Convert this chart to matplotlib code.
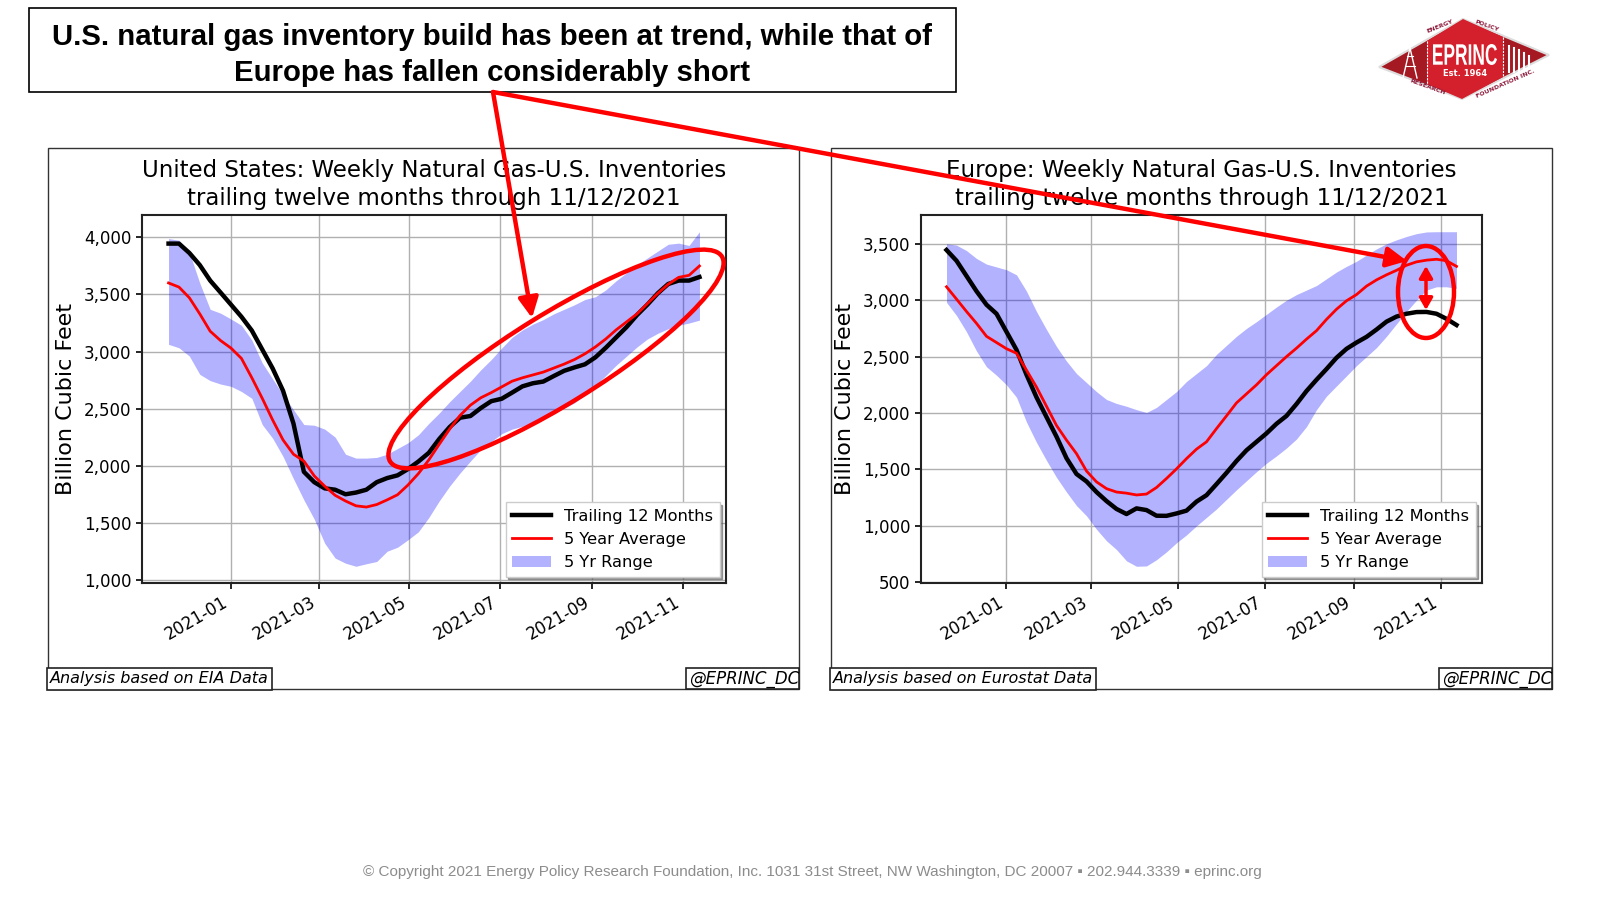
import matplotlib
matplotlib.use("Agg")
import matplotlib.pyplot as plt
import matplotlib.dates as mdates
import matplotlib.ticker as mticker
from matplotlib.patches import Rectangle, Ellipse, Polygon, FancyArrowPatch, PathPatch
from matplotlib.textpath import TextPath
from matplotlib.font_manager import FontProperties
from matplotlib.transforms import Affine2D
import pandas as pd

# weekly report dates, trailing twelve months through 11/12/2021
weeks = pd.date_range("2020-11-20", periods=52, freq="7D")

# United States (Bcf)
us_ttm = [3946, 3946, 3864, 3758, 3622, 3517, 3411, 3305, 3184, 3018,
          2852, 2656, 2369, 1946, 1855, 1801, 1789, 1749, 1764, 1789,
          1855, 1891, 1915, 1970, 2036, 2112, 2233, 2338, 2420, 2435,
          2505, 2565, 2586, 2640, 2695, 2722, 2737, 2785, 2831, 2861,
          2888, 2949, 3033, 3124, 3215, 3320, 3411, 3511, 3592, 3622,
          3622, 3653]
us_avg = [3601, 3565, 3471, 3330, 3178, 3096, 3030, 2940, 2770, 2590,
          2400, 2225, 2100, 2040, 1910, 1820, 1740, 1690, 1648, 1637,
          1659, 1700, 1745, 1830, 1930, 2050, 2187, 2320, 2440, 2530,
          2595, 2640, 2690, 2740, 2770, 2795, 2820, 2855, 2890, 2930,
          2980, 3040, 3110, 3190, 3260, 3330, 3420, 3510, 3590, 3650,
          3668, 3750]
us_high = [3990, 3975, 3870, 3600, 3370, 3336, 3285, 3230, 3100, 2900,
           2760, 2620, 2490, 2360, 2354, 2320, 2250, 2100, 2066, 2066,
           2072, 2100, 2150, 2200, 2270, 2370, 2460, 2560, 2650, 2740,
           2840, 2930, 3030, 3124, 3190, 3240, 3280, 3330, 3370, 3410,
           3456, 3480, 3540, 3620, 3690, 3760, 3820, 3880, 3940, 3950,
           3930, 4050]
us_low = [3063, 3033, 2960, 2800, 2745, 2715, 2695, 2650, 2590, 2360,
          2240, 2080, 1885, 1700, 1530, 1320, 1190, 1145, 1118, 1140,
          1160, 1250, 1285, 1350, 1420, 1545, 1690, 1820, 1935, 2040,
          2140, 2210, 2280, 2320, 2345, 2380, 2420, 2460, 2505, 2550,
          2620, 2700, 2790, 2880, 2960, 3040, 3110, 3160, 3200, 3230,
          3250, 3275]

# Europe (Bcf)
eu_ttm = [3445, 3350, 3215, 3080, 2960, 2880, 2720, 2560, 2340, 2140,
          1965, 1791, 1600, 1460, 1394, 1300, 1220, 1150, 1105, 1155,
          1140, 1090, 1089, 1110, 1135, 1215, 1272, 1370, 1470, 1575,
          1670, 1745, 1820, 1905, 1975, 2080, 2195, 2295, 2390, 2490,
          2569, 2625, 2675, 2740, 2810, 2855, 2880, 2895, 2896, 2880,
          2835, 2780]
eu_avg = [3119, 3010, 2900, 2795, 2680, 2625, 2570, 2530, 2380, 2230,
          2060, 1890, 1760, 1640, 1486, 1390, 1330, 1300, 1290, 1274,
          1282, 1340, 1420, 1505, 1596, 1680, 1745, 1862, 1975, 2090,
          2170, 2250, 2340, 2420, 2500, 2575, 2655, 2730, 2830, 2920,
          2995, 3050, 3125, 3180, 3225, 3265, 3310, 3340, 3355, 3363,
          3350, 3300]
eu_high = [3500, 3488, 3440, 3370, 3320, 3295, 3270, 3225, 3080, 2900,
           2740, 2590, 2460, 2350, 2270, 2190, 2120, 2085, 2060, 2030,
           2005, 2050, 2120, 2190, 2280, 2350, 2420, 2520, 2600, 2680,
           2750, 2810, 2875, 2940, 3000, 3050, 3090, 3130, 3190, 3250,
           3300, 3345, 3400, 3455, 3500, 3535, 3565, 3590, 3605, 3607,
           3607, 3607]
eu_low = [2981, 2865, 2720, 2550, 2410, 2335, 2250, 2140, 1920, 1740,
          1580, 1430, 1300, 1180, 1089, 970, 868, 790, 690, 642,
          645, 700, 770, 850, 920, 1000, 1075, 1150, 1235, 1320,
          1400, 1480, 1555, 1620, 1690, 1770, 1880, 2030, 2150, 2240,
          2330, 2420, 2500, 2580, 2680, 2790, 2900, 3000, 3090, 3119,
          3119, 3105]

headline = ("U.S. natural gas inventory build has been at trend, while that of\n"
            "Europe has fallen considerably short")
us_title = "United States: Weekly Natural Gas-U.S. Inventories\ntrailing twelve months through 11/12/2021"
eu_title = "Europe: Weekly Natural Gas-U.S. Inventories\ntrailing twelve months through 11/12/2021"
footer = ("\u00a9 Copyright 2021 Energy Policy Research Foundation, Inc. 1031 31st Street, "
          "NW Washington, DC 20007 \u25aa 202.944.3339 \u25aa eprinc.org")

W, H = 1600, 900
fig = plt.figure(figsize=(16, 9), dpi=100)


def px_axes(z):
    a = fig.add_axes([0, 0, 1, 1], zorder=z)
    a.set_xlim(0, W)
    a.set_ylim(H, 0)
    a.axis("off")
    a.patch.set_alpha(0)
    return a


bg = px_axes(0)

# headline box
bg.add_patch(Rectangle((29, 8), 927, 84, fill=False, ec="black", lw=1.2))
bg.text(492, 55, headline, ha="center", va="center", fontsize=21.2, fontweight="bold",
        family=["Liberation Sans", "DejaVu Sans"], linespacing=1.4)

# panel frames and source notes
for x0, x1, src in [(48, 799, "Analysis based on EIA Data"),
                    (831, 1552, "Analysis based on Eurostat Data")]:
    frame = Rectangle((x0, 148), x1 - x0, 541, fill=False, ec="#333333", lw=1)
    bg.add_patch(frame)
    t = bg.text(x0 + 2, 679, src, ha="left", va="center", fontsize=11.5, style="italic")
    t.set_bbox(dict(boxstyle="square,pad=0.2", fc="white", ec="#222222", lw=1.2))
    # handle box, its text runs past the panel edge and is cut off there
    bg.add_patch(Rectangle((x1 - 113, 668), 113, 21, fc="white", ec="#222222", lw=1.2))
    t2 = bg.text(x1 - 110, 679, "@EPRINC_DC", ha="left", va="center", fontsize=12,
                 style="italic", clip_on=True)
    t2.set_clip_path(frame)

bg.text(812, 872, footer, ha="center", va="center", fontsize=11, color="#8c8c8c",
        family=["Liberation Sans", "DejaVu Sans"])

# logo
logo_red = "#d4202c"
logo_dark = "#a51922"
bg.add_patch(Polygon([(1379, 67), (1463, 19), (1549, 55), (1462, 99)], closed=True,
                     fc=logo_dark, ec="#dddddd", lw=1.5))
bg.add_patch(Polygon([(1427, 41), (1463, 19), (1503, 37), (1503, 77), (1462, 99), (1427, 84)],
                     closed=True, fc=logo_red, ec="none"))
bg.plot([1427, 1427], [41, 84], color="white", lw=0.8, ls=(0, (2, 1)))
bg.plot([1503, 1503], [37, 77], color="white", lw=0.8, ls=(0, (2, 1)))
# condensed "EPRINC" lettering
tp = TextPath((0, 0), "EPRINC", size=20,
              prop=FontProperties(family="Liberation Sans", weight="bold"))
ext = tp.get_extents()
sx = 64 / ext.width
sy = 21 / ext.height
word = Affine2D().translate(-ext.x0 - ext.width / 2, -ext.y0).scale(sx, -sy).translate(1465, 65)
bg.add_patch(PathPatch(word.transform_path(tp), fc="white", ec="none"))
bg.text(1465, 73, "Est. 1964", ha="center", va="center", color="white", fontsize=6,
        fontweight="bold")
# derrick and bars
bg.plot([1403, 1410, 1417], [78, 48, 78], color="white", lw=1)
bg.plot([1405, 1415], [66, 66], color="white", lw=0.8)
bg.plot([1407, 1413], [56, 56], color="white", lw=0.8)
for i, top in enumerate([46, 48, 50, 53, 56]):
    bg.plot([1509 + 5 * i, 1509 + 5 * i], [top, 72], color="white", lw=1.5)
bg.text(1440, 26, "ENERGY", ha="center", va="center", fontsize=4.5, color="#8e1b3c",
        fontweight="bold", rotation=22)
bg.text(1487, 26, "POLICY", ha="center", va="center", fontsize=4.5, color="#8e1b3c",
        fontweight="bold", rotation=-20)
bg.text(1428, 87, "RESEARCH", ha="center", va="center", fontsize=4.5, color="#8e1b3c",
        fontweight="bold", rotation=-20)
bg.text(1505, 84, "FOUNDATION INC.", ha="center", va="center", fontsize=4.5, color="#8e1b3c",
        fontweight="bold", rotation=24)


def draw_panel(rect, title, ttm, avg, low, high):
    ax = fig.add_axes(rect, zorder=1)
    ax.fill_between(weeks, low, high, color="blue", alpha=0.3, lw=0, label="5 Yr Range")
    ax.plot(weeks, ttm, color="black", lw=3.2, label="Trailing 12 Months")
    ax.plot(weeks, avg, color="red", lw=2, label="5 Year Average")
    ax.set_title(title, fontsize=16.5, pad=7, linespacing=1.3)
    ax.set_ylabel("Billion Cubic Feet", fontsize=16, labelpad=6)
    ax.grid(True, color="#b0b0b0", lw=1)
    ax.set_axisbelow(True)
    ax.xaxis.set_major_locator(mdates.MonthLocator(bymonth=[1, 3, 5, 7, 9, 11]))
    ax.xaxis.set_major_formatter(mdates.DateFormatter("%Y-%m"))
    ax.yaxis.set_major_locator(mticker.MultipleLocator(500))
    ax.yaxis.set_major_formatter(mticker.FuncFormatter(lambda v, p: f"{v:,.0f}"))
    ax.tick_params(labelsize=12, width=1.2, length=4)
    for lab in ax.get_xticklabels():
        lab.set_rotation(30)
        lab.set_ha("right")
    for s in ax.spines.values():
        s.set_color("#222222")
        s.set_linewidth(1.5)
    h, l = ax.get_legend_handles_labels()
    order = [1, 2, 0]
    leg = ax.legend([h[i] for i in order], [l[i] for i in order], loc="lower right",
                    fontsize=11.7, shadow=True, fancybox=False, framealpha=1,
                    handlelength=2.4, borderaxespad=0.4)
    leg.get_frame().set_edgecolor("#cccccc")
    return ax


ax_us = draw_panel([142 / W, 1 - 583 / H, 584 / W, 368 / H], us_title,
                   us_ttm, us_avg, us_low, us_high)
ax_eu = draw_panel([921 / W, 1 - 583 / H, 561 / W, 368 / H], eu_title,
                   eu_ttm, eu_avg, eu_low, eu_high)

# callouts
fg = px_axes(5)
for tip in [(532, 318), (1407, 261)]:
    fg.add_patch(FancyArrowPatch((493, 92), tip, arrowstyle="-|>,head_length=12,head_width=6",
                                 mutation_scale=1, color="red", lw=3.2, shrinkA=0, shrinkB=0))
fg.add_patch(Ellipse((556, 359), 390, 90, angle=-31.7, fill=False, ec="red", lw=3.2))
fg.add_patch(Ellipse((1426, 292), 56, 92, fill=False, ec="red", lw=3.2))
fg.add_patch(FancyArrowPatch((1426, 266), (1426, 310),
                             arrowstyle="<|-|>,head_length=7,head_width=4",
                             mutation_scale=1, color="red", lw=2.5, shrinkA=0, shrinkB=0))

fig.savefig("out.png", dpi=100)
